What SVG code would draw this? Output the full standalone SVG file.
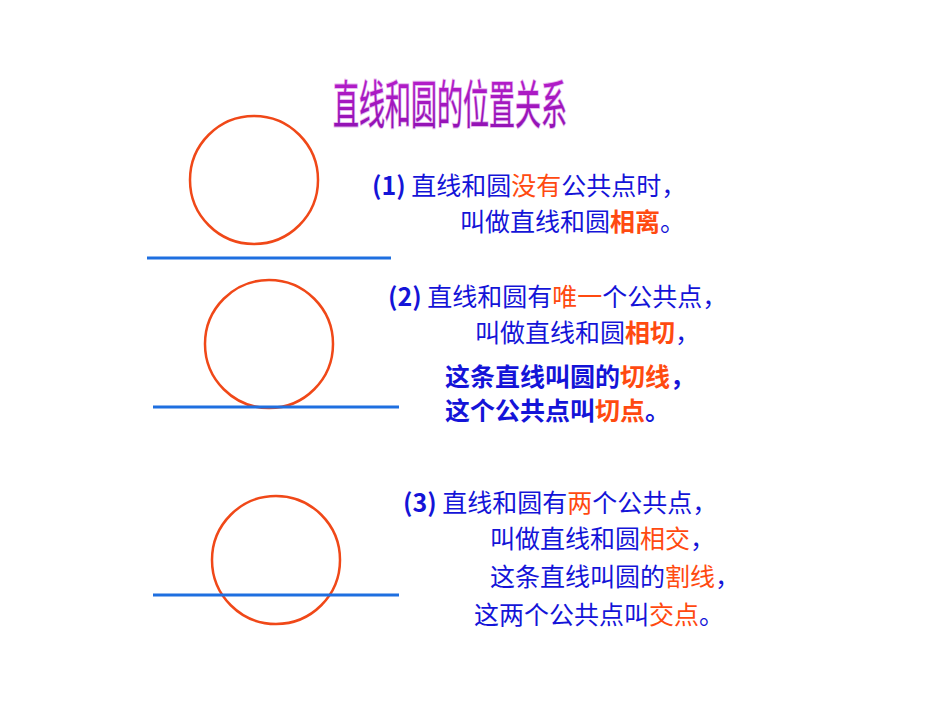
<svg xmlns="http://www.w3.org/2000/svg" width="950" height="713" viewBox="0 0 950 713">
<style>
.c{fill:none;stroke:#f04818;stroke-width:2.5}
.l{stroke:#1e6fe0;stroke-width:3}
text{font-family:"Noto Sans CJK SC","Liberation Sans",sans-serif;font-size:25px;fill:#1414d8}
.r{fill:#ff4a10}
.b{font-weight:bold}
</style>
<defs><linearGradient id="g" x1="0" y1="0" x2="0" y2="1"><stop offset="0" stop-color="#c020d0"/><stop offset="1" stop-color="#8a10b0"/></linearGradient></defs>
<rect width="950" height="713" fill="#fff"/>
<g id="title"><text transform="translate(333,124) scale(0.65,1.3)" style="font-size:40px;fill:url(#g);stroke:#e8b8f0;stroke-width:1.5;paint-order:stroke">直线和圆的位置关系</text></g>
<g id="shapes">
<g id="circle1"><circle class="c" cx="254" cy="180" r="64"/></g>
<g id="circle2"><circle class="c" cx="269" cy="344" r="64"/></g>
<g id="circle3"><circle class="c" cx="276" cy="560" r="64"/></g>
</g>
<g id="connectors">
<line class="l" x1="147" y1="258" x2="391" y2="258"/>
<line class="l" x1="153" y1="407" x2="399" y2="407"/>
<line class="l" x1="153" y1="595" x2="399" y2="595"/>
</g>
<g id="text1">
<text x="372" y="195"><tspan class="b">(1)</tspan> 直线和圆<tspan class="r">没有</tspan>公共点时，</text>
<text x="460" y="231">叫做直线和圆<tspan class="r b">相离</tspan>。</text>
</g>
<g id="text2">
<text x="388" y="306"><tspan class="b">(2)</tspan> 直线和圆有<tspan class="r">唯一</tspan>个公共点，</text>
<text x="475" y="342">叫做直线和圆<tspan class="r b">相切</tspan>，</text>
<text x="445" y="386" class="b">这条直线叫圆的<tspan class="r">切线</tspan>，</text>
<text x="445" y="420" class="b">这个公共点叫<tspan class="r">切点</tspan>。</text>
</g>
<g id="text3">
<text x="403" y="512"><tspan class="b">(3)</tspan> 直线和圆有<tspan class="r">两</tspan>个公共点，</text>
<text x="490" y="548">叫做直线和圆<tspan class="r">相交</tspan>，</text>
<text x="490" y="586">这条直线叫圆的<tspan class="r">割线</tspan>，</text>
<text x="474" y="624">这两个公共点叫<tspan class="r">交点</tspan>。</text>
</g>
</svg>
